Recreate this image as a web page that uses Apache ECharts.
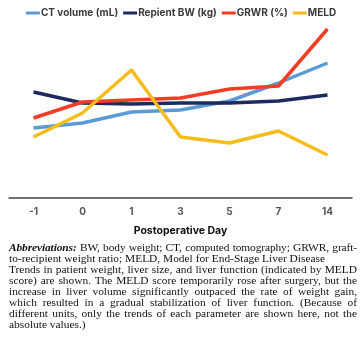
<!DOCTYPE html>
<html>
<head>
<meta charset="utf-8">
<script src="https://cdn.jsdelivr.net/npm/echarts@6/dist/echarts.min.js"></script>
<style>
html,body{margin:0;padding:0;background:#fff;}
#chart{position:absolute;left:0;top:0;width:362px;height:358px;}
#cap{position:absolute;left:9px;top:242px;width:348px;font-family:"Liberation Serif","DejaVu Serif",serif;font-size:11.4px;line-height:11px;color:#111;}
#cap div{white-space:nowrap;}
#cap .j{text-align:justify;text-align-last:justify;white-space:normal;}
#cap .t{word-spacing:-2px;letter-spacing:-0.1px;}
</style>
</head>
<body>
<div id="chart"></div>
<div id="cap">
<div class="j t"><b><i>Abbreviations:</i></b> BW, body weight; CT, computed tomography; GRWR, graft-</div>
<div>to-recipient weight ratio; MELD, Model for End-Stage Liver Disease</div>
<div class="j">Trends in patient weight, liver size, and liver function (indicated by MELD</div>
<div class="j">score) are shown. The MELD score temporarily rose after surgery, but the</div>
<div class="j">increase in liver volume significantly outpaced the rate of weight gain,</div>
<div class="j">which resulted in a gradual stabilization of liver function. (Because of</div>
<div class="j">different units, only the trends of each parameter are shown here, not the</div>
<div>absolute values.)</div>
</div>
<script>
var categories = ['-1', '0', '1', '3', '5', '7', '14'];
var ctVolume = [70, 75, 86, 88, 97, 115, 135];
var recipientBW = [106, 95, 94, 95, 95, 97, 103];
var grwr = [80, 96, 98, 100, 109, 112, 169];
var meld = [61, 85, 128, 61, 55, 67, 43];
var seriesNames = ['CT volume (mL)', 'Repient BW (kg)', 'GRWR (%)', 'MELD'];
var colors = ['#5b9bd5', '#1d2a5f', '#f23c24', '#f4bc1c'];
var dataSets = [ctVolume, recipientBW, grwr, meld];

var chart = echarts.init(document.getElementById('chart'));
chart.setOption({
  animation: false,
  color: colors,
  legend: {
    top: 3,
    left: 'center',
    icon: 'rect',
    itemWidth: 14,
    itemHeight: 3,
    itemGap: 5,
    textStyle: {fontFamily: 'Inter', fontWeight: 'bold', fontSize: 10, color: '#3a3a3a', padding: [0, 0, 0, -4]},
    data: seriesNames
  },
  grid: {left: 9, right: 10, top: 20, bottom: 160},
  xAxis: {
    type: 'category',
    data: categories,
    boundaryGap: true,
    axisLine: {lineStyle: {color: '#444', width: 1.5}},
    axisTick: {show: false},
    axisLabel: {margin: 9, fontFamily: 'Inter', fontWeight: 'bold', fontSize: 10, color: '#555'},
    name: 'Postoperative Day',
    nameLocation: 'middle',
    nameGap: 27,
    nameTextStyle: {fontFamily: 'Inter', fontWeight: 'bold', fontSize: 10.5, color: '#111'}
  },
  yAxis: {type: 'value', min: 0, max: 178, show: false, splitLine: {show: false}},
  series: dataSets.map(function (d, i) {
    return {
      name: seriesNames[i],
      type: 'line',
      data: d,
      symbol: 'none',
      lineStyle: {width: 3.5, color: colors[i]}
    };
  })
});
</script>
</body>
</html>
